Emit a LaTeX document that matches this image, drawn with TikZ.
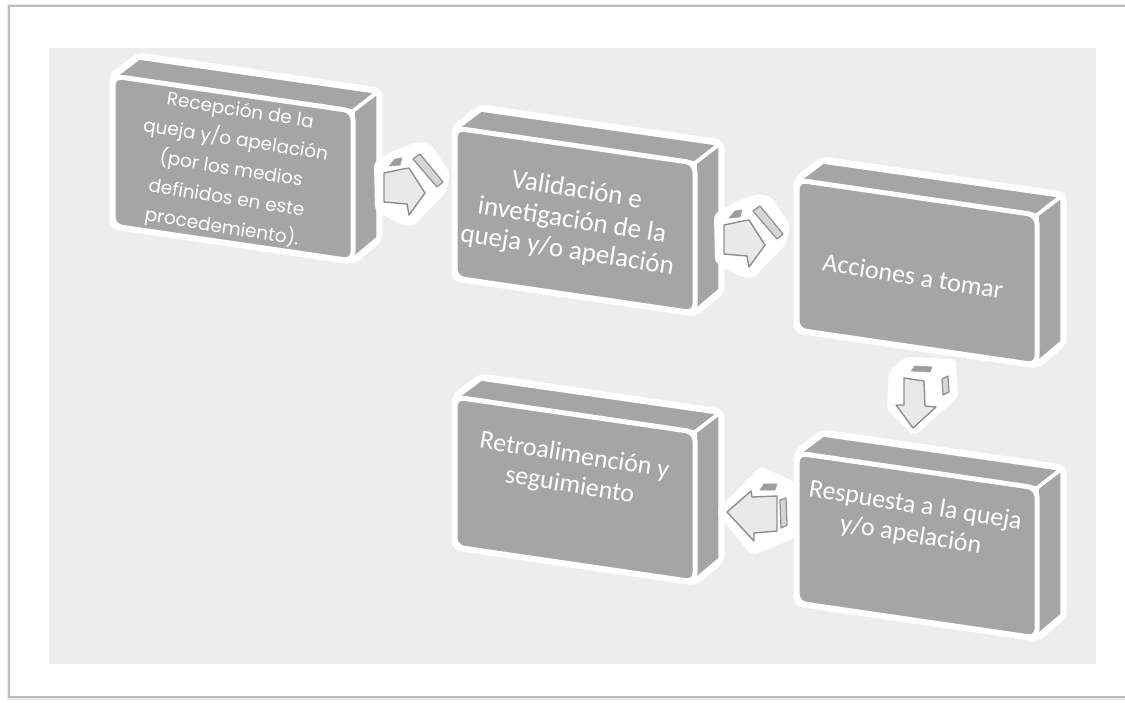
\documentclass[tikz,border=0pt]{standalone}
\usepackage{fontspec}
\newfontfamily\popfont{Poppins}
\newfontfamily\calfont{Carlito}
\definecolor{bg}{HTML}{EDEDED}
\definecolor{boxgray}{HTML}{A5A5A5}
\definecolor{arrfill}{HTML}{E9E9E9}
\definecolor{arrline}{HTML}{8E8E8E}
\definecolor{arrdark}{HTML}{9E9E9E}
\definecolor{stripfill}{HTML}{D6D6D6}
\definecolor{framegray}{HTML}{BDBDBD}
\tikzset{
  boxtext/.style={text=white, align=center, rotate=-9, inner sep=0pt},
  halo/.style={fill=white, draw=white, line width=7pt, line join=round},
  face/.style={fill=boxgray, draw=white, line width=3.5pt, line join=round},
  frontface/.style={fill=boxgray, draw=white, line width=5pt, rounded corners=9pt},
  arrface/.style={fill=arrfill, draw=arrline, line width=1.4pt, line join=round},
  arrtop/.style={fill=arrdark, draw=arrdark, line width=0.6pt, line join=round},
  arrstrip/.style={fill=stripfill, draw=arrline, line width=1.2pt, line join=round},
}
\newcommand{\cuboid}[2]{%
  \begin{scope}[shift={(#1,#2)}]
    \path[halo, rounded corners=6pt] (0,0) -- (26,-20) -- (266,15) -- (266,163) -- (240,185) -- (0,150) -- cycle;
    \path[face] (2,0) -- (26,-18) -- (264,16) -- (240,35) -- cycle;
    \path[face] (240,35) -- (265,16) -- (265,162) -- (240,183) -- cycle;
    \path[frontface] (0,0) -- (240,35) -- (240,185) -- (0,150) -- cycle;
  \end{scope}}
\newcommand{\rightarr}[1]{%
  \begin{scope}[shift={(#1)}]
    \path[halo, line width=6pt, rounded corners=3pt] (-7,-9) -- (10,-19) -- (33,-28) -- (45,-26) -- (63,1) -- (59,18) -- (28,50) -- (19,49) -- (-6,36) -- cycle;
    \path[arrface] (0,0) -- (19,-4) -- (25,-5) -- (41,20) -- (25,42) -- (23,31) -- (0,29) -- cycle;
    \path[arrtop] (5,-7) -- (11,-14) -- (18,-15) -- (16,-8) -- cycle;
    \path[arrstrip] (29,-14) -- (36,-19) -- (59,9) -- (53,14) -- cycle;
  \end{scope}}
\begin{document}
\begin{tikzpicture}[x=1pt, y=-1pt]
  \useasboundingbox (0,0) rectangle (1125,702);
  \fill[white] (0,0) rectangle (1125,702);
  % frame with soft shadow
  \draw[framegray!35, line width=5pt] (1130,6) -- (9,6) -- (9,697) -- (1130,697);
  \draw[framegray, line width=1.3pt] (1130,6) -- (9,6) -- (9,697) -- (1130,697);
  \fill[white] (10,7) rectangle (1125,696);
  \fill[bg] (49,48) rectangle (1096,664);

  % boxes
  \cuboid{113}{76}
  \cuboid{455}{128}
  \cuboid{797}{180}
  \cuboid{797}{453}
  \cuboid{455}{397}

  % texts
  \node[boxtext, font=\popfont\fontsize{18.5}{29.5}\selectfont] (b1) at (231,170)
    {Recepción de la\\queja y/o apelación\\(por los medios\\definidos en este\\procedemiento).};
  \node[boxtext, font=\calfont\fontsize{27}{30.5}\selectfont] (b2) at (572,221)
    {Validación e\\invetigación de la\\queja y/o apelación};
  \node[boxtext, font=\calfont\fontsize{26}{30}\selectfont] (b3) at (913,276)
    {Acciones a tomar};
  \node[boxtext, font=\calfont\fontsize{26}{30}\selectfont] (b4) at (913,521)
    {Respuesta a la queja\\y/o apelación};
  \node[boxtext, font=\calfont\fontsize{26}{30}\selectfont] (b5) at (572,471)
    {Retroalimención y\\seguimiento};

  % arrows
  \coordinate (a1) at (384,173);
  \coordinate (a2) at (724,225);
  \rightarr{a1}
  \rightarr{a2}

  % down arrow (b3 -> b4)
  \path[halo, line width=6pt, rounded corners=3pt] (892,372) -- (907,360) -- (953,362) -- (955,396) -- (914,432) -- (890,408) -- cycle;
  \path[arrface] (904,378) -- (924,381) -- (925,406) -- (936,407) -- (913,428) -- (896,405) -- (904,405) -- cycle;
  \path[arrtop] (911,371) -- (915,366) -- (932,367) -- (930,372) -- cycle;
  \path[arrstrip] (942,379) -- (948,376) -- (949,392) -- (943,395) -- cycle;

  % left arrow (b4 -> b5)
  \path[halo, line width=6pt, rounded corners=3pt] (720,512) -- (752,479) -- (761,470) -- (792,484) -- (792,536) -- (753,552) -- cycle;
  \path[arrface] (727,512) -- (751,491) -- (752,497) -- (777,496) -- (777,531) -- (754,533) -- (754,541) -- cycle;
  \path[arrtop] (760,490) -- (764,484) -- (777,484) -- (775,490) -- cycle;
  \path[arrstrip] (780,500) -- (786,498) -- (787,525) -- (781,528) -- cycle;
\end{tikzpicture}
\end{document}
